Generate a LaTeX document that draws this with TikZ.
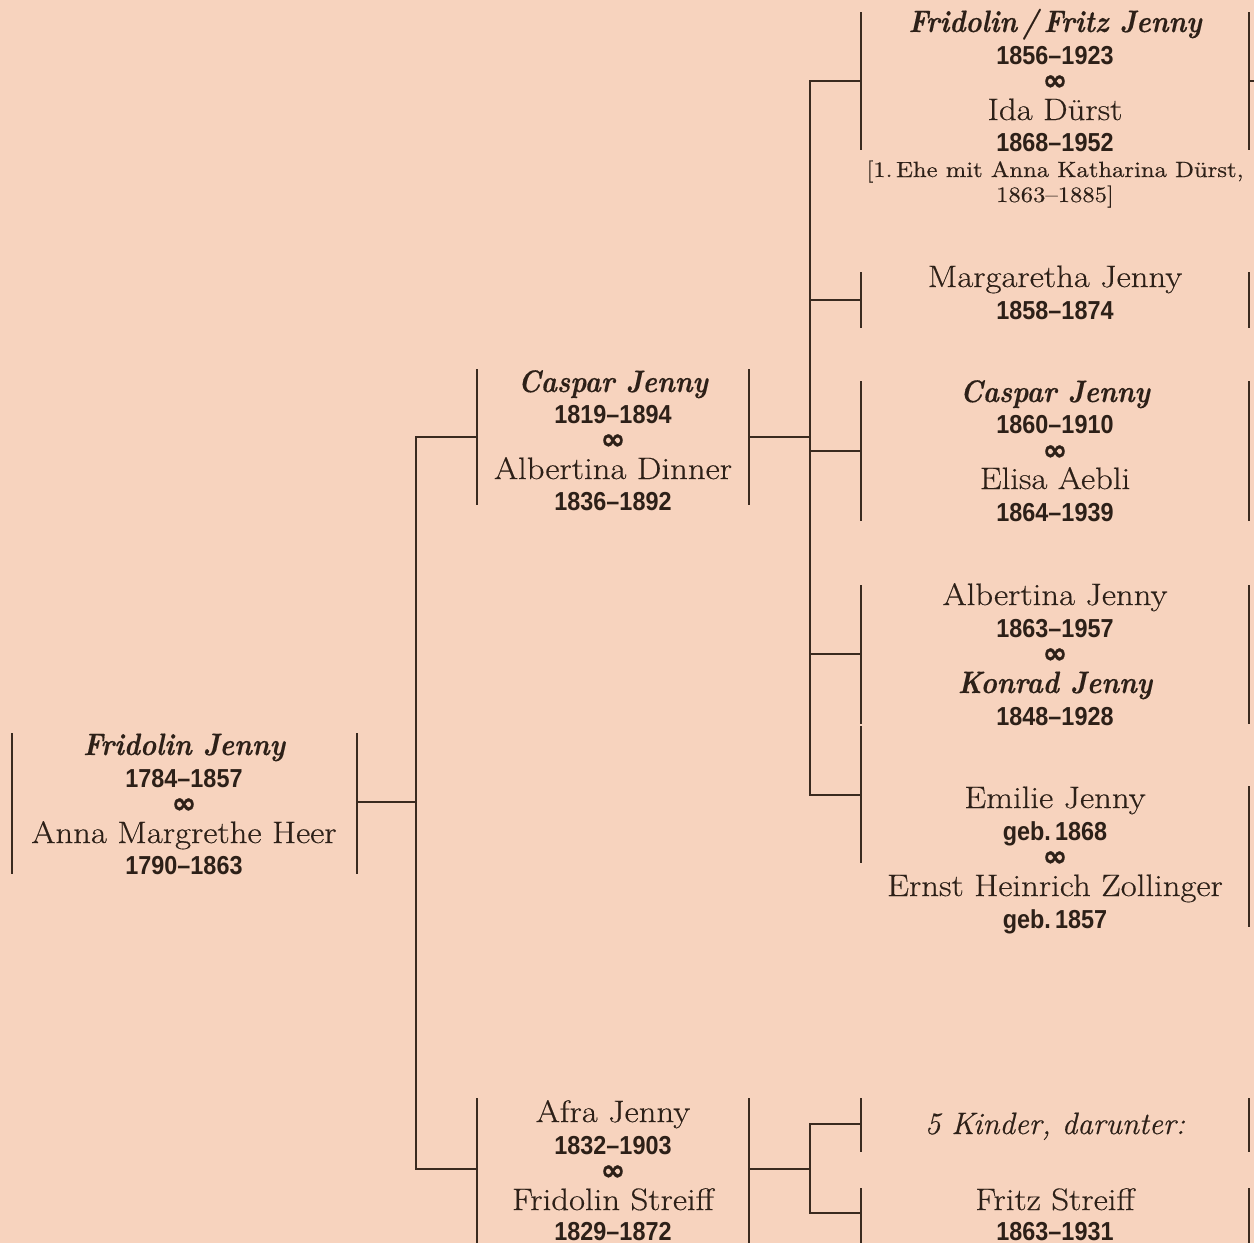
\documentclass[tikz,border=0pt]{standalone}
\usepackage{fontspec}
\newfontfamily\yearfont{Liberation Sans}[FakeStretch=0.9]
\newfontfamily\symfont{DejaVu Sans}[FakeBold=1.2]
\newfontfamily\namefont{Latin Modern Roman}[FakeStretch=1.12, FakeBold=0.4]
\newfontfamily\bifont{Latin Modern Roman}[FakeStretch=0.88, FakeBold=0.3]
\newfontfamily\itfont{Latin Modern Roman}[FakeBold=0.4]
\definecolor{bg}{RGB}{247,211,190}
\definecolor{ink}{RGB}{45,32,24}
\definecolor{linec}{RGB}{58,42,31}
\tikzset{
  bar/.style={draw=linec, line width=1pt, line join=miter},
  nm/.style={font=\namefont\fontsize{15.5}{18}\selectfont, anchor=base, text=ink, inner sep=0pt},
  bnm/.style={font=\bifont\bfseries\itshape\fontsize{15.5}{18}\selectfont, anchor=base, text=ink, inner sep=0pt},
  inm/.style={font=\itfont\itshape\fontsize{15.5}{18}\selectfont, anchor=base, text=ink, inner sep=0pt},
  yr/.style={font=\yearfont\bfseries\fontsize{13}{15}\selectfont, anchor=base, text=ink, inner sep=0pt},
  inf/.style={font=\symfont\bfseries\fontsize{14.5}{16}\selectfont, anchor=base, text height=0.45em, text depth=0pt, text=ink, inner sep=0pt},
  sm/.style={font=\namefont\fontsize{11}{14}\selectfont, anchor=base, text=ink, inner sep=0pt}
}
\newcommand\famBars[5]{%
  \coordinate (#1-lt) at (#2,#4); \coordinate (#1-lb) at (#2,#5);
  \coordinate (#1-rt) at (#3,#4); \coordinate (#1-rb) at (#3,#5);
  \draw[bar] (#1-lt) -- (#1-lb); \draw[bar] (#1-rt) -- (#1-rb);}
\begin{document}
\begin{tikzpicture}[x=0.5pt,y=-0.5pt]
\fill[bg] (0,0) rectangle (1254,1243);
\useasboundingbox (0,0) rectangle (1254,1243);

% ---------- Generation 1 ----------
\famBars{g1}{12}{357}{733}{874}
\node[bnm] (g1a) at (184,755) {Fridolin Jenny};
\node[yr]  (g1b) at (184,787) {1784–1857};
\node[inf] (g1c) at (184,813) {∞};
\node[nm]  (g1d) at (184,843) {Anna Margrethe Heer};
\node[yr]  (g1e) at (184,874) {1790–1863};

% ---------- Generation 2 ----------
\famBars{cas}{477}{749}{369}{505}
\node[bnm] (casa) at (613,392) {Caspar Jenny};
\node[yr]  (casb) at (613,423) {1819–1894};
\node[inf] (casc) at (613,449) {∞};
\node[nm]  (casd) at (613,479) {Albertina Dinner};
\node[yr]  (case) at (613,510) {1836–1892};

\famBars{afr}{477}{749}{1098}{1243}
\node[nm]  (afra) at (613,1122) {Afra Jenny};
\node[yr]  (afrb) at (613,1154) {1832–1903};
\node[inf] (afrc) at (613,1180) {∞};
\node[nm]  (afrd) at (613,1210) {Fridolin Streiff};
\node[yr]  (afre) at (613,1240) {1829–1872};

% ---------- Generation 3 ----------
\famBars{fri}{861}{1249}{12}{150}
\node[bnm] (fria) at (1055,32) {Fridolin\,/\,Fritz Jenny};
\node[yr]  (frib) at (1055,64) {1856–1923};
\node[inf] (fric) at (1055,90) {∞};
\node[nm]  (frid) at (1055,120) {Ida Dürst};
\node[yr]  (frie) at (1055,151) {1868–1952};
\node[sm]  (frif) at (1055,177) {[1.\,Ehe mit Anna Katharina Dürst,};
\node[sm]  (frig) at (1055,202) {1863–1885]};

\famBars{mar}{861}{1249}{272}{328}
\node[nm]  (mara) at (1055,287) {Margaretha Jenny};
\node[yr]  (marb) at (1055,319) {1858–1874};

\famBars{cjr}{861}{1249}{381}{521}
\node[bnm] (cjra) at (1055,402) {Caspar Jenny};
\node[yr]  (cjrb) at (1055,433) {1860–1910};
\node[inf] (cjrc) at (1055,460) {∞};
\node[nm]  (cjrd) at (1055,489) {Elisa Aebli};
\node[yr]  (cjre) at (1055,521) {1864–1939};

\famBars{alb}{861}{1249}{585}{724}
\node[nm]  (alba) at (1055,605) {Albertina Jenny};
\node[yr]  (albb) at (1055,637) {1863–1957};
\node[inf] (albc) at (1055,663) {∞};
\node[bnm] (albd) at (1055,693) {Konrad Jenny};
\node[yr]  (albe) at (1055,725) {1848–1928};

\coordinate (emi-lt) at (861,726); \coordinate (emi-lb) at (861,863);
\coordinate (emi-rt) at (1249,786); \coordinate (emi-rb) at (1249,927);
\draw[bar] (emi-lt) -- (emi-lb); \draw[bar] (emi-rt) -- (emi-rb);
\node[nm]  (emia) at (1055,808) {Emilie Jenny};
\node[yr]  (emib) at (1055,840) {geb.\,1868};
\node[inf] (emic) at (1055,866) {∞};
\node[nm]  (emid) at (1055,896) {Ernst Heinrich Zollinger};
\node[yr]  (emie) at (1055,928) {geb.\,1857};

\famBars{kin}{861}{1249}{1098}{1152}
\node[inm] (kina) at (1055,1134) {5 Kinder, darunter:};

\famBars{fst}{861}{1249}{1188}{1243}
\node[nm]  (fsta) at (1055,1210) {Fritz Streiff};
\node[yr]  (fstb) at (1055,1240) {1863–1931};

% ---------- Connectors ----------
\coordinate (g1out) at (357,802);
\coordinate (j1) at (416,802);
\coordinate (casin) at (477,437);
\coordinate (afrin) at (477,1169);
\draw[bar] (g1out) -- (j1);
\draw[bar] (casin) -- (casin -| j1) -- (afrin -| j1) -- (afrin);

\coordinate (casout) at (749,437);
\coordinate (j2) at (810,437);
\coordinate (k1) at (861,81);
\coordinate (k2) at (861,300);
\coordinate (k3) at (861,451);
\coordinate (k4) at (861,654);
\coordinate (k5) at (861,795);
\draw[bar] (casout) -- (j2);
\draw[bar] (k1) -- (k1 -| j2) -- (k5 -| j2) -- (k5);
\draw[bar] (k2 -| j2) -- (k2);
\draw[bar] (k3 -| j2) -- (k3);
\draw[bar] (k4 -| j2) -- (k4);

\coordinate (afrout) at (749,1169);
\coordinate (j3) at (810,1169);
\coordinate (s1) at (861,1124);
\coordinate (s2) at (861,1213);
\draw[bar] (afrout) -- (j3);
\draw[bar] (s1) -- (s1 -| j3) -- (s2 -| j3) -- (s2);

\coordinate (friout) at (1249,81);
\coordinate (frinext) at (1256,81);
\draw[bar] (friout) -- (frinext);
\end{tikzpicture}
\end{document}
